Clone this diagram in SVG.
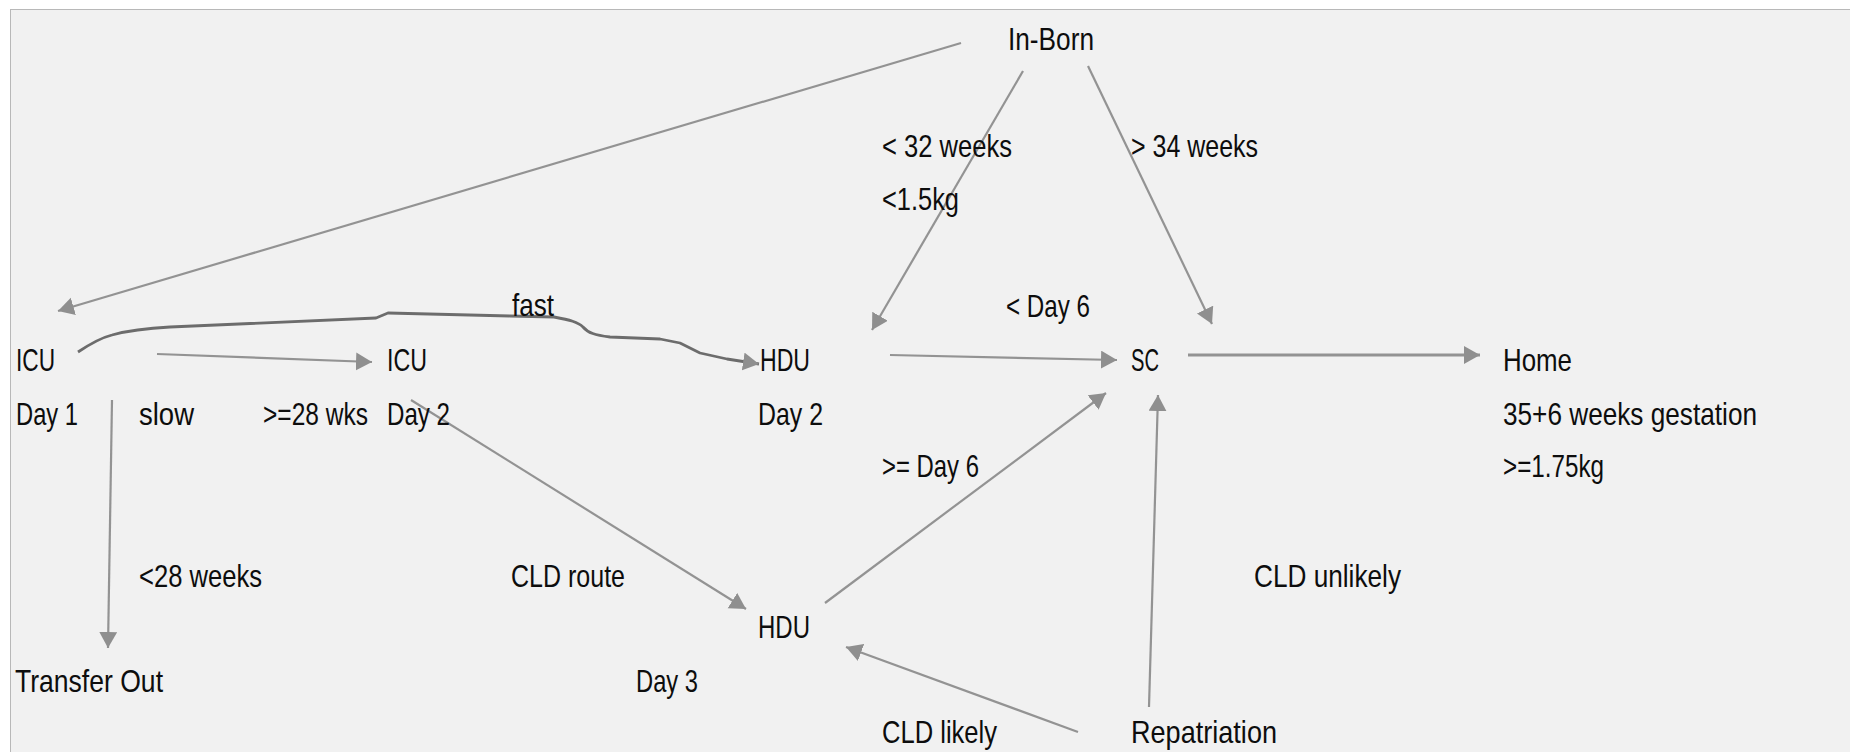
<svg xmlns="http://www.w3.org/2000/svg" width="1850" height="752" viewBox="0 0 1850 752">
<defs>
<marker id="ah" markerUnits="userSpaceOnUse" markerWidth="17" markerHeight="19" refX="16" refY="9" orient="auto">
<path d="M0,0 L16,9 L0,18 z" fill="#8f8f8f"/>
</marker>
<style>
text{font-family:"Liberation Sans",Arial,sans-serif;font-size:32px;fill:#0d0d0d;}
.c{fill:none;stroke:#939393;stroke-width:2.2;marker-end:url(#ah);}
.thick{stroke-width:3.2;}
.curve{fill:none;stroke:#6c6c6c;stroke-width:2.8;stroke-linejoin:round;marker-end:url(#ah);}
</style>
</defs>
<rect x="0" y="0" width="1850" height="752" fill="#ffffff"/>
<rect x="10.5" y="9.5" width="1850" height="760" fill="#f1f1f1" stroke="#b8b8b8" stroke-width="1"/>

<g id="connectors">
<line class="c" x1="961" y1="43" x2="58" y2="311"/>
<line class="c" x1="1023" y1="71" x2="872" y2="330"/>
<line class="c" x1="1088" y1="66" x2="1212" y2="324"/>
<line class="c" x1="157" y1="354" x2="372" y2="362"/>
<line class="c" x1="112" y1="400" x2="108" y2="648"/>
<path class="curve" d="M78,352 C90,344 100,338 112,335 C130,330 150,328 170,327 L376,318 L388,313 L510,316 L554,317 C570,320 578,322 583,327 C588,333 595,335 610,337 L660,339 L680,343 L700,353 L727,359 L759,364"/>
<line class="c" x1="890" y1="355" x2="1117" y2="360"/>
<line class="c thick" x1="1188" y1="355" x2="1480" y2="355"/>
<line class="c" x1="411" y1="400" x2="746" y2="609"/>
<line class="c" x1="825" y1="603" x2="1106" y2="393"/>
<line class="c" x1="1078" y1="732" x2="846" y2="647"/>
<line class="c" x1="1149" y1="707" x2="1158" y2="395"/>
</g>

<g id="edge-labels">
<text x="512" y="316" textLength="42" lengthAdjust="spacingAndGlyphs">fast</text>
<text x="139" y="425" textLength="55" lengthAdjust="spacingAndGlyphs">slow</text>
<text transform="translate(263,425) scale(0.8,1)" x="0" y="0" textLength="131.25" lengthAdjust="spacingAndGlyphs">&gt;=28 wks</text>
<text x="139" y="587" textLength="123" lengthAdjust="spacingAndGlyphs">&lt;28 weeks</text>
<text x="511" y="587" textLength="114" lengthAdjust="spacingAndGlyphs">CLD route</text>
<text x="882" y="157" textLength="130" lengthAdjust="spacingAndGlyphs">&lt; 32 weeks</text>
<text x="882" y="210" textLength="77" lengthAdjust="spacingAndGlyphs">&lt;1.5kg</text>
<text x="1131" y="157" textLength="127" lengthAdjust="spacingAndGlyphs">&gt; 34 weeks</text>
<text x="1006" y="317" textLength="84" lengthAdjust="spacingAndGlyphs">&lt; Day 6</text>
<text x="882" y="477" textLength="97" lengthAdjust="spacingAndGlyphs">&gt;= Day 6</text>
<text x="882" y="743" textLength="115" lengthAdjust="spacingAndGlyphs">CLD likely</text>
<text x="1254" y="587" textLength="147" lengthAdjust="spacingAndGlyphs">CLD unlikely</text>
</g>

<g id="node-inborn">
<text x="1008" y="50" textLength="86" lengthAdjust="spacingAndGlyphs">In-Born</text>
</g>
<g id="node-icu-day1">
<text x="16" y="371" textLength="39" lengthAdjust="spacingAndGlyphs">ICU</text>
<text x="16" y="425" textLength="62" lengthAdjust="spacingAndGlyphs">Day 1</text>
</g>
<g id="node-icu-day2">
<text x="387" y="371" textLength="40" lengthAdjust="spacingAndGlyphs">ICU</text>
<text x="387" y="425" textLength="63" lengthAdjust="spacingAndGlyphs">Day 2</text>
</g>
<g id="node-hdu-day2">
<text x="760" y="371" textLength="50" lengthAdjust="spacingAndGlyphs">HDU</text>
<text x="758" y="425" textLength="65" lengthAdjust="spacingAndGlyphs">Day 2</text>
</g>
<g id="node-hdu-day3">
<text x="758" y="638" textLength="52" lengthAdjust="spacingAndGlyphs">HDU</text>
<text x="636" y="692" textLength="62" lengthAdjust="spacingAndGlyphs">Day 3</text>
</g>
<g id="node-sc">
<text x="1131" y="371" textLength="28" lengthAdjust="spacingAndGlyphs">SC</text>
</g>
<g id="node-home">
<text x="1503" y="371" textLength="69" lengthAdjust="spacingAndGlyphs">Home</text>
<text x="1503" y="425" textLength="254" lengthAdjust="spacingAndGlyphs">35+6 weeks gestation</text>
<text x="1503" y="477" textLength="101" lengthAdjust="spacingAndGlyphs">&gt;=1.75kg</text>
</g>
<g id="node-transfer-out">
<text x="15" y="692" textLength="148" lengthAdjust="spacingAndGlyphs">Transfer Out</text>
</g>
<g id="node-repatriation">
<text x="1131" y="743" textLength="146" lengthAdjust="spacingAndGlyphs">Repatriation</text>
</g>
</svg>
